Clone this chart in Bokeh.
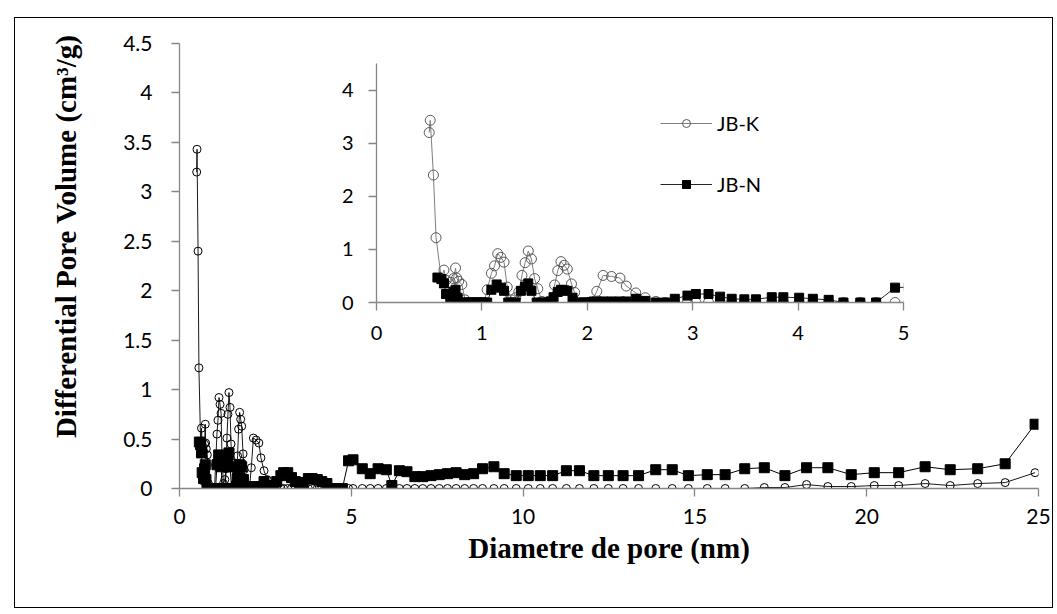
from bokeh.plotting import figure
from bokeh.models import (ColumnDataSource, Range1d, FixedTicker, Legend, LegendItem,
                          Div, Title)
from bokeh.layouts import column
from bokeh.embed import file_html
from bokeh.resources import INLINE

# Pore size distribution (DFT) of the two samples
k_diam = [0.50, 0.51, 0.54, 0.565, 0.615, 0.64, 0.66, 0.70, 0.73, 0.75, 0.76, 0.78, 0.81,
          0.84, 0.87, 0.90, 0.93, 0.96, 0.99, 1.02, 1.05, 1.09, 1.12, 1.15, 1.18, 1.21,
          1.24, 1.28, 1.32, 1.35, 1.38, 1.41, 1.44, 1.47, 1.50, 1.53, 1.57, 1.61, 1.65,
          1.69, 1.72, 1.75, 1.78, 1.81, 1.85, 1.88, 1.94, 1.99, 2.04, 2.09, 2.15, 2.23,
          2.31, 2.37, 2.46, 2.55, 2.65,
          2.74, 2.83, 2.95, 3.03, 3.15, 3.26, 3.37, 3.49, 3.60, 3.75, 3.86, 4.01, 4.14,
          4.29, 4.43, 4.59, 4.74, 4.92, 5.05, 5.32, 5.55, 5.78, 6.02, 6.18, 6.40, 6.62,
          6.85, 7.08, 7.32, 7.56, 7.80, 8.05, 8.30, 8.56, 8.82, 9.15, 9.45, 9.80, 10.15,
          10.50, 10.86, 11.26, 11.64, 12.06, 12.48, 12.91, 13.36, 13.86, 14.34, 14.81,
          15.36, 15.88, 16.45, 17.02, 17.62, 18.25, 18.87, 19.55, 20.22, 20.93, 21.70,
          22.43, 23.23, 24.03, 24.90]
k_vol = [3.20, 3.43, 2.40, 1.22, 0.45, 0.61, 0.42, 0.38, 0.45, 0.65, 0.46, 0.40, 0.34,
         0.05, 0.00, 0.00, 0.00, 0.00, 0.00, 0.00, 0.24, 0.55, 0.69, 0.92, 0.85, 0.76,
         0.29, 0.05, 0.09, 0.20, 0.51, 0.75, 0.97, 0.82, 0.45, 0.26, 0.02, 0.00, 0.03,
         0.33, 0.60, 0.77, 0.70, 0.63, 0.35, 0.19, 0.00, 0.00, 0.02, 0.21, 0.51, 0.49,
         0.46, 0.31, 0.18, 0.09, 0.02,
         0.00, 0.00, 0.00, 0.00, 0.00, 0.00, 0.00, 0.00, 0.00, 0.00, 0.00, 0.00, 0.00,
         0.00, 0.00, 0.00, 0.00, 0.00, 0.00, 0.00, 0.00, 0.00, 0.00, 0.00, 0.00, 0.00,
         0.00, 0.00, 0.00, 0.00, 0.00, 0.00, 0.00, 0.00, 0.00, 0.00, 0.00, 0.00, 0.00,
         0.00, 0.00, 0.00, 0.00, 0.00, 0.00, 0.00, 0.00, 0.00, 0.00, 0.00,
         0.00, 0.00, 0.00, 0.01, 0.01, 0.04, 0.02, 0.02, 0.03, 0.03, 0.05,
         0.03, 0.05, 0.06, 0.16]

n_diam = [0.578, 0.615, 0.64, 0.66, 0.70, 0.73, 0.75, 0.77, 0.80, 0.84, 0.87, 0.90, 0.93,
          0.96, 0.99, 1.02, 1.05, 1.09, 1.14, 1.18, 1.21, 1.25, 1.28, 1.32, 1.37, 1.41,
          1.44, 1.47, 1.52, 1.57, 1.61, 1.65, 1.68, 1.72, 1.75, 1.78, 1.81, 1.86, 1.94,
          1.99, 2.04, 2.09, 2.15, 2.23, 2.31, 2.37, 2.46, 2.55, 2.65,
          2.74, 2.83, 2.95, 3.03, 3.15, 3.26, 3.37, 3.49, 3.60, 3.75, 3.86, 4.01, 4.14,
          4.29, 4.43, 4.59, 4.74, 4.92, 5.05, 5.32, 5.55, 5.78, 6.02, 6.18, 6.40, 6.62,
          6.85, 7.08, 7.32, 7.56, 7.80, 8.05, 8.30, 8.56, 8.82, 9.15, 9.45, 9.80, 10.15,
          10.50, 10.86, 11.26, 11.64, 12.06, 12.48, 12.91, 13.36, 13.86, 14.34, 14.81,
          15.36, 15.88, 16.45, 17.02, 17.62, 18.25, 18.87, 19.55, 20.22, 20.93, 21.70,
          22.43, 23.23, 24.03, 24.90]
n_vol = [0.47, 0.44, 0.36, 0.16, 0.10, 0.20, 0.24, 0.09, 0.00, 0.00, 0.00, 0.00, 0.00,
         0.00, 0.00, 0.00, 0.00, 0.24, 0.34, 0.28, 0.22, 0.00, 0.00, 0.00, 0.22, 0.30,
         0.36, 0.22, 0.00, 0.00, 0.00, 0.02, 0.10, 0.20, 0.24, 0.23, 0.22, 0.09, 0.00,
         0.00, 0.01, 0.02, 0.02, 0.02, 0.02, 0.02, 0.07, 0.03, 0.00,
         0.00, 0.07, 0.13, 0.16, 0.16, 0.11, 0.07, 0.06, 0.06, 0.10, 0.10, 0.09, 0.07,
         0.05, 0.00, 0.00, 0.00, 0.28, 0.29, 0.20, 0.15, 0.20, 0.19, 0.03, 0.18, 0.17,
         0.12, 0.12, 0.13, 0.14, 0.15, 0.16, 0.14, 0.15, 0.20, 0.22, 0.15, 0.13, 0.13,
         0.13, 0.13, 0.18, 0.18, 0.13, 0.13, 0.13, 0.13, 0.19, 0.19, 0.13,
         0.14, 0.14, 0.20, 0.21, 0.13, 0.21, 0.21, 0.14, 0.16, 0.16, 0.22,
         0.19, 0.20, 0.25, 0.65]

series_names = ["JB-K", "JB-N"]

main_x_ticks = [0, 5, 10, 15, 20, 25]
main_y_ticks = [0, 0.5, 1, 1.5, 2, 2.5, 3, 3.5, 4, 4.5]
inset_x_ticks = [0, 1, 2, 3, 4, 5]
inset_y_ticks = [0, 1, 2, 3, 4]

x_title = "Diametre de pore (nm)"
y_title = "Differential Pore Volume (cm³/g)"

AXIS_GREY = "#868686"
TICK_FONT = "Lato"
TITLE_FONT = "Liberation Serif"

src_k = ColumnDataSource(dict(d=k_diam, v=k_vol))
src_n = ColumnDataSource(dict(d=n_diam, v=n_vol))


def style_axes(fig, xticks, yticks, font_size):
    fig.grid.visible = False
    fig.outline_line_color = None
    fig.xaxis.ticker = FixedTicker(ticks=xticks)
    fig.yaxis.ticker = FixedTicker(ticks=yticks)
    for ax in (fig.xaxis[0], fig.yaxis[0]):
        ax.axis_line_color = AXIS_GREY
        ax.axis_line_width = 1.3
        ax.major_tick_line_color = AXIS_GREY
        ax.major_tick_line_width = 1.3
        ax.major_tick_in = 0
        ax.major_tick_out = 8
        ax.minor_tick_line_color = None
        ax.major_label_text_font = TICK_FONT
        ax.major_label_text_font_size = font_size
        ax.major_label_text_color = "black"


# ---- main chart -------------------------------------------------------
p = figure(width=1057, height=614, x_range=Range1d(0, 25), y_range=Range1d(0, 4.5),
           output_backend="svg", toolbar_location=None,
           min_border_left=179, min_border_right=19, min_border_top=43,
           min_border_bottom=126, background_fill_color="white",
           border_fill_color="white")
style_axes(p, main_x_ticks, main_y_ticks, "21px")
p.xaxis.major_label_standoff = 12
p.yaxis.major_label_standoff = 19

p.xaxis.axis_label = x_title
p.xaxis.axis_label_text_font = TITLE_FONT
p.xaxis.axis_label_text_font_style = "bold"
p.xaxis.axis_label_text_font_size = "29px"
p.xaxis.axis_label_text_color = "black"
p.xaxis.axis_label_standoff = 5

# vertical title in the left side panel, top-anchored
p.add_layout(Title(text=y_title, align="right", offset=-9, standoff=77,
                   text_font=TITLE_FONT, text_font_style="bold",
                   text_font_size="29px", text_color="black"), "left")

p.line("d", "v", source=src_k, line_color="black", line_width=0.9)
p.scatter("d", "v", source=src_k, marker="circle", size=8, line_color="black",
          line_width=1, fill_alpha=0)
p.line("d", "v", source=src_n, line_color="black", line_width=1)
p.scatter("d", "v", source=src_n, marker="square", size=10, line_color="black",
          fill_color="black")

# ---- inset: zoom on the micropore region ------------------------------
q = figure(width=725, height=295, x_range=Range1d(0, 5), y_range=Range1d(0, 4.5),
           output_backend="svg", toolbar_location=None,
           min_border_left=179, min_border_right=19, min_border_top=6,
           min_border_bottom=50, background_fill_alpha=0, border_fill_alpha=0)
style_axes(q, inset_x_ticks, inset_y_ticks, "20px")
q.xaxis.major_label_standoff = 15
q.yaxis.major_label_standoff = 15

kl = q.line("d", "v", source=src_k, line_color="#7f7f7f", line_width=1)
ks = q.scatter("d", "v", source=src_k, marker="circle", size=10, line_color="#595959",
               line_width=1, fill_alpha=0)
nl = q.line("d", "v", source=src_n, line_color="#262626", line_width=1)
ns = q.scatter("d", "v", source=src_n, marker="square", size=9, line_color="black",
               fill_color="black")

legend = Legend(items=[LegendItem(label=series_names[0], renderers=[kl, ks]),
                       LegendItem(label=series_names[1], renderers=[nl, ns])],
                location=(284, 106), orientation="vertical",
                glyph_width=52, glyph_height=20, spacing=37, padding=0, margin=0,
                label_standoff=5, label_text_font=TICK_FONT,
                label_text_font_size="20px", label_text_color="black",
                border_line_alpha=0, background_fill_alpha=0)
q.add_layout(legend)
q.styles = {"position": "absolute", "left": "197px", "top": "57px"}

frame_box = Div(text="", width=1039, height=591,
                styles={"position": "absolute", "left": "9px", "top": "12px",
                        "border": "1px solid #000", "box-sizing": "border-box",
                        "pointer-events": "none"})

root = column(p, q, frame_box, width=1057, height=614,
              styles={"position": "relative"})

open("out.html", "w").write(file_html(root, INLINE))
